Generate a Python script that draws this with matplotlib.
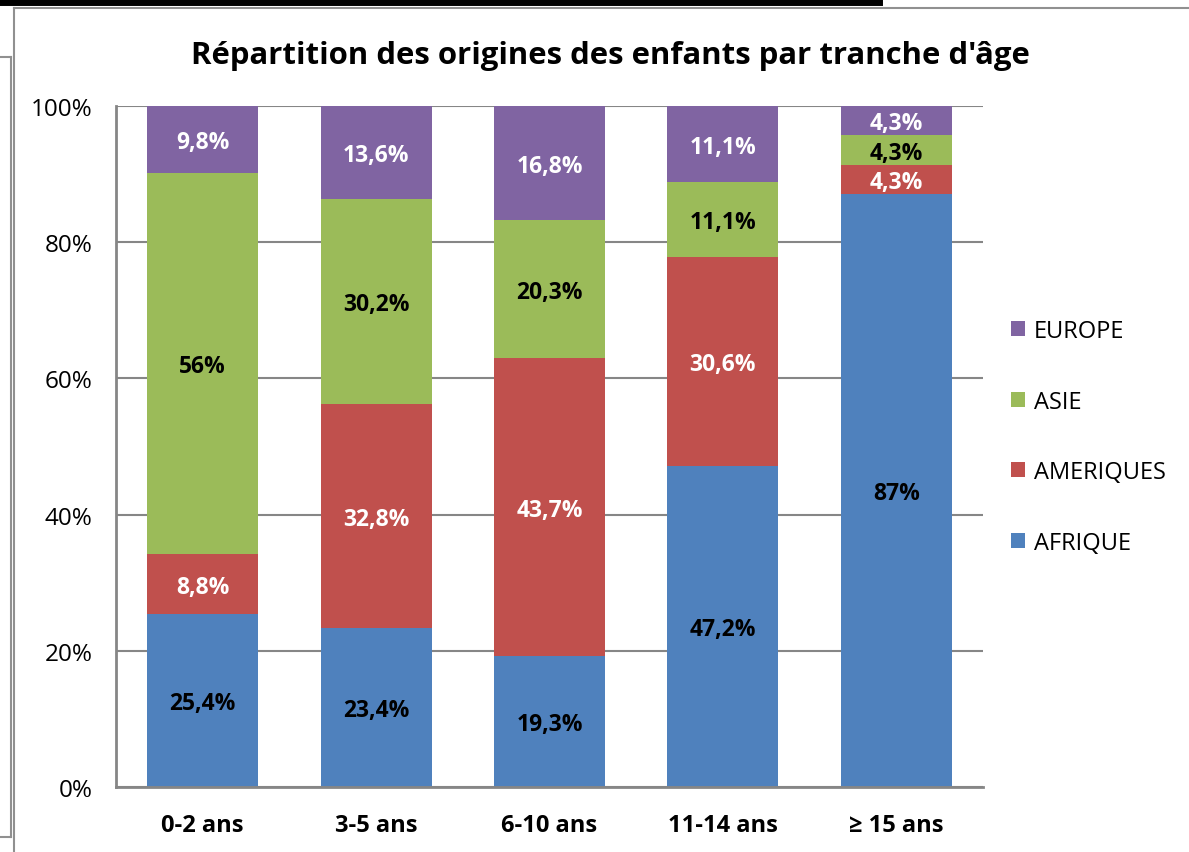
import matplotlib.pyplot as plt
from matplotlib.patches import Patch
from matplotlib.lines import Line2D
import numpy as np

plt.rcParams['font.family'] = ['Open Sans', 'DejaVu Sans']

# === Données ===
categories = ['0-2 ans', '3-5 ans', '6-10 ans', '11-14 ans', '≥ 15 ans']
afrique = [25.4, 23.4, 19.3, 47.2, 87.0]
ameriques = [8.8, 32.8, 43.7, 30.6, 4.3]
asie = [56.0, 30.2, 20.3, 11.1, 4.3]
europe = [9.8, 13.6, 16.8, 11.1, 4.3]
labels_afrique = ['25,4%', '23,4%', '19,3%', '47,2%', '87%']
labels_ameriques = ['8,8%', '32,8%', '43,7%', '30,6%', '4,3%']
labels_asie = ['56%', '30,2%', '20,3%', '11,1%', '4,3%']
labels_europe = ['9,8%', '13,6%', '16,8%', '11,1%', '4,3%']
yticks = [0, 20, 40, 60, 80, 100]
ytick_labels = ['0%', '20%', '40%', '60%', '80%', '100%']

series = [
    ('AFRIQUE', afrique, labels_afrique, '#4F81BD', 'black'),
    ('AMERIQUES', ameriques, labels_ameriques, '#C0504D', 'white'),
    ('ASIE', asie, labels_asie, '#9BBB59', 'black'),
    ('EUROPE', europe, labels_europe, '#8064A2', 'white'),
]

W, H = 1189, 853
fig = plt.figure(figsize=(W / 100, H / 100), dpi=100)
ax = fig.add_axes([116 / W, 1 - 788 / H, (983 - 116) / W, (788 - 107) / H])

# normalisation 100 %
totals = np.sum([s[1] for s in series], axis=0)
x = np.arange(len(categories))
bottom = np.zeros(len(categories))
for name, vals, labs, color, tcolor in series:
    pct = np.array(vals) / totals * 100
    ax.bar(x, pct, 0.64, bottom=bottom, color=color, zorder=2, label=name)
    for xi, b, p, lab in zip(x, bottom, pct, labs):
        ax.annotate(lab, (xi, b + p / 2), xytext=(0, -2), textcoords='offset points',
                    ha='center', va='center', color=tcolor,
                    fontsize=16.5, fontweight='bold', zorder=3)
    bottom += pct

ax.set_xlim(-0.5, len(categories) - 0.5)
ax.set_ylim(0, 100)
ax.set_yticks(yticks)
ax.set_yticklabels(ytick_labels, fontsize=17.5)
ax.set_xticks(x)
ax.set_xticklabels(categories, fontsize=17, fontweight='bold')
ax.tick_params(axis='both', length=0)
ax.tick_params(axis='y', pad=17)
ax.tick_params(axis='x', pad=19)
ax.yaxis.grid(True, color='#868686', linewidth=1.5, zorder=0)
for side in ['top', 'right']:
    ax.spines[side].set_visible(False)
for side in ['left', 'bottom']:
    ax.spines[side].set_color('#868686')
    ax.spines[side].set_linewidth(2)

fig.text(610 / W, 1 - 56 / H, "Répartition des origines des enfants par tranche d'âge",
         ha='center', va='center', fontsize=22.4, fontweight='bold')

handles = [Patch(facecolor=s[3], label=s[0]) for s in reversed(series)]
fig.legend(handles=handles, loc='center left', bbox_to_anchor=(990 / W, 1 - 438 / H),
           frameon=False, fontsize=17, handlelength=0.6, handleheight=0.6,
           handletextpad=0.35, labelspacing=1.975)

# cadre de la capture
fig.add_artist(Line2D([0, 879 / W], [1 - 3 / H, 1 - 3 / H], color='black', linewidth=5))
fig.add_artist(Line2D([14 / W, 1], [1 - 9 / H, 1 - 9 / H], color='#909090', linewidth=1.5))
fig.add_artist(Line2D([14 / W, 14 / W], [0, 1 - 9 / H], color='#909090', linewidth=1.5))
fig.add_artist(Line2D([11 / W, 11 / W], [1 - 838 / H, 1 - 58 / H], color='#909090', linewidth=1.5))
fig.add_artist(Line2D([0, 11 / W], [1 - 58 / H, 1 - 58 / H], color='#909090', linewidth=1.5))
fig.add_artist(Line2D([0, 11 / W], [1 - 838 / H, 1 - 838 / H], color='#909090', linewidth=1.5))

fig.savefig('out.png', dpi=100)
